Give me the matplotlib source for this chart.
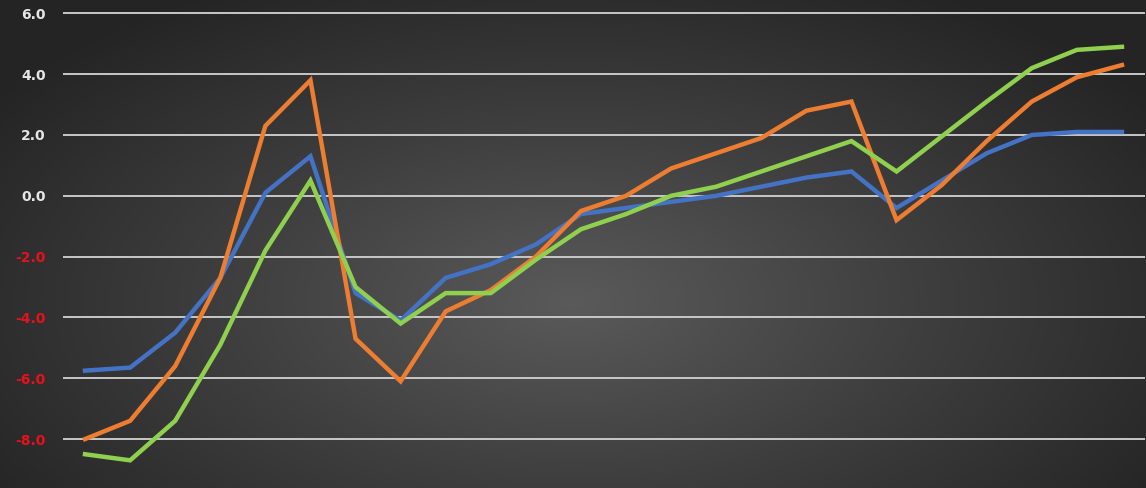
import numpy as np
import matplotlib
matplotlib.use("Agg")
import matplotlib.pyplot as plt
from matplotlib.colors import LinearSegmentedColormap

# data (24 points per series)
x_idx = list(range(24))
blue = [-5.75, -5.65, -4.5, -2.7, 0.1, 1.3, -3.2, -4.1, -2.7, -2.25, -1.6, -0.6,
        -0.4, -0.2, 0.0, 0.3, 0.6, 0.8, -0.4, 0.5, 1.4, 2.0, 2.1, 2.1]
orange = [-8.0, -7.4, -5.6, -2.7, 2.3, 3.8, -4.7, -6.1, -3.8, -3.1, -2.0, -0.5,
          0.0, 0.9, 1.4, 1.9, 2.8, 3.1, -0.8, 0.35, 1.8, 3.1, 3.9, 4.3]
green = [-8.5, -8.7, -7.4, -4.9, -1.8, 0.5, -3.0, -4.2, -3.2, -3.2, -2.1, -1.1,
         -0.6, 0.0, 0.3, 0.8, 1.3, 1.8, 0.8, 1.95, 3.1, 4.2, 4.8, 4.9]
y_ticks = [-8, -6, -4, -2, 0, 2, 4, 6]

fig = plt.figure(figsize=(11.46, 4.88), dpi=100)

# radial gradient background
bg = fig.add_axes([0, 0, 1, 1], zorder=0)
gx, gy = np.meshgrid(np.linspace(0, 1, 600), np.linspace(0, 1, 260))
r = np.sqrt(((gx - 0.5) / 0.62) ** 2 + ((gy - 0.62) / 0.75) ** 2)
cmap = LinearSegmentedColormap.from_list("bg", ["#5a5a5a", "#3e3e3e", "#242424"])
bg.imshow(np.clip(r, 0, 1), cmap=cmap, aspect="auto", extent=[0, 1, 0, 1], vmin=0, vmax=1)
bg.axis("off")

ax = fig.add_axes([62.5 / 1146, 0, 1082 / 1146, 1], zorder=1)
ax.set_facecolor("none")

ax.plot(x_idx, blue, color="#4472C4", lw=3.2, solid_joinstyle="miter", zorder=3)
ax.plot(x_idx, orange, color="#ED7D31", lw=3.2, solid_joinstyle="miter", zorder=3)
ax.plot(x_idx, green, color="#8FD14F", lw=3.2, solid_joinstyle="miter", zorder=3)

ax.set_xlim(-0.5, 23.5)
ax.set_ylim(-9.61, 6.44)
ax.set_yticks(y_ticks)
ax.set_yticklabels([f"{v:.1f}" for v in y_ticks], fontsize=10,
                   fontweight="bold", family=["DejaVu Sans"])
for lbl, v in zip(ax.get_yticklabels(), y_ticks):
    lbl.set_color("#e8101c" if v < 0 else "#e6e6e6")
ax.set_xticks([])
ax.tick_params(axis="y", length=0, pad=12)
ax.grid(axis="y", color="#c8c8c8", lw=1.4)
for s in ax.spines.values():
    s.set_visible(False)

fig.savefig("out.png", dpi=100)
